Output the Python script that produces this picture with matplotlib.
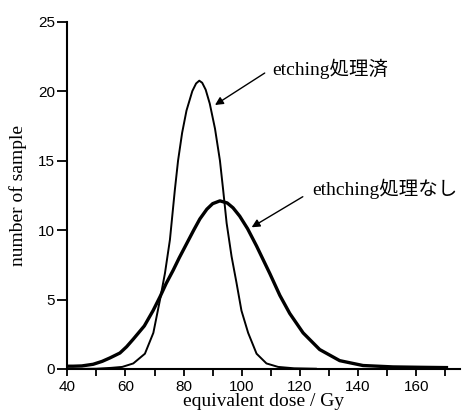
import matplotlib
matplotlib.use("Agg")
import matplotlib.pyplot as plt
from matplotlib.ticker import MultipleLocator

# thin curve: etching処理済
dose_etched = [40, 50, 55, 58.9, 62.7, 66.7, 69.6, 71.9, 73.6, 75.3, 77.0, 78.1,
               79.5, 81.0, 83.0, 84.3, 85.4, 86.4, 87.6, 89.0, 90.8, 92.5, 93.6,
               94.8, 96.5, 98.2, 99.9, 102.2, 105.1, 108.5, 112.5, 118, 125.5]
count_etched = [0.0, 0.02, 0.08, 0.15, 0.4, 1.1, 2.6, 5.0, 6.9, 9.3, 12.9, 15.0,
                17.0, 18.6, 20.0, 20.55, 20.75, 20.6, 20.1, 19.1, 17.3, 15.0, 12.9,
                10.5, 8.1, 6.2, 4.2, 2.6, 1.1, 0.4, 0.15, 0.05, 0.02]

# thick curve: ethching処理なし
dose_raw = [40, 42, 45, 48.9, 52, 54.7, 58.1, 60.4, 62.7, 66.5, 69.5, 71.9, 74,
            76.4, 78.5, 81.0, 83.5, 85.6, 88, 90, 92.5, 95, 97, 99.3, 102, 105.1,
            107.4, 109.7, 113.1, 116.5, 121.1, 126.8, 133.7, 141.7, 152, 162, 170.4]
count_raw = [0.2, 0.2, 0.22, 0.34, 0.55, 0.8, 1.15, 1.6, 2.15, 3.1, 4.2, 5.2, 6.15,
             7.1, 8.0, 9.0, 10.0, 10.8, 11.5, 11.9, 12.1, 11.95, 11.6, 11.0, 10.1,
             8.85, 7.85, 6.85, 5.3, 4.0, 2.6, 1.4, 0.6, 0.25, 0.15, 0.12, 0.1]

label_font = ['Liberation Serif', 'Noto Sans CJK JP']

fig = plt.figure(figsize=(4.64, 4.16), dpi=100)
ax = fig.add_axes([0.145, 0.113, 0.846, 0.835])

ax.plot(dose_etched, count_etched, color='black', lw=1.4, solid_joinstyle='round')
ax.plot(dose_raw, count_raw, color='black', lw=2.4, solid_joinstyle='round')

ax.set_xlim(40, 175)
ax.set_ylim(0, 25)
ax.xaxis.set_minor_locator(MultipleLocator(10))
ax.yaxis.set_major_locator(MultipleLocator(5))
ax.set_xticks([40, 60, 80, 100, 120, 140, 160])

for s in ['top', 'right']:
    ax.spines[s].set_visible(False)
for s in ['left', 'bottom']:
    ax.spines[s].set_linewidth(1.5)

ax.tick_params(axis='x', which='both', direction='out', length=5, width=1.3,
               labelsize=11, pad=3)
ax.tick_params(axis='y', which='major', direction='out', length=7, width=1.3,
               labelsize=11, pad=2)
for lab in ax.get_xticklabels() + ax.get_yticklabels():
    lab.set_family('Liberation Sans')

ax.set_xlabel('equivalent dose / Gy', family=label_font, fontsize=14, labelpad=-1)
ax.set_ylabel('number of sample', family=label_font, fontsize=14, labelpad=8)

arrow = dict(arrowstyle='-|>', color='black', lw=1.0, mutation_scale=12,
             shrinkA=0, shrinkB=0)
ax.annotate('', xy=(90.8, 19.0), xytext=(107.9, 21.3), arrowprops=arrow)
ax.text(110.4, 21.6, 'etching処理済', family=label_font, fontsize=14,
        ha='left', va='center')
ax.annotate('', xy=(103.4, 10.2), xytext=(121.0, 12.4), arrowprops=arrow)
ax.text(124.2, 13.0, 'ethching処理なし', family=label_font, fontsize=14,
        ha='left', va='center')

fig.savefig('out.png', dpi=100)
